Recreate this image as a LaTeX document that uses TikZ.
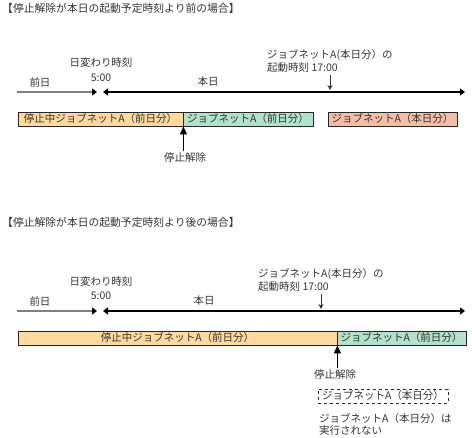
\documentclass[tikz,border=0pt]{standalone}
\usepackage{fontspec}
\setmainfont{Noto Sans CJK JP}
\usepackage{xcolor}
\usetikzlibrary{arrows.meta,positioning,shadows}
\definecolor{JobOrange}{HTML}{FFD9A0}
\definecolor{JobGreen} {HTML}{B4E2C8}
\definecolor{JobSalmon}{HTML}{F4BFA8}
\definecolor{JobText}  {HTML}{333333}
\definecolor{DayGray}  {HTML}{808080}

\begin{document}
\begin{tikzpicture}[x=1pt,y=-1pt,
    txt/.style={font=\fontsize{10.5}{12.5}\selectfont,text=JobText,inner sep=0pt},
    job/.style={draw=black!85,fill=#1,line width=0.8pt,
                minimum height=14pt,inner sep=0pt,
                font=\fontsize{10.5}{12}\selectfont,text=JobText,
                drop shadow={shadow xshift=1pt,shadow yshift=-1.2pt,fill=black!45,opacity=1}},
    prevday/.style={-{Triangle[length=5pt,width=7pt,color=black]},line width=1.4pt,DayGray},
    today/.style={{Triangle[length=5pt,width=7pt]}-{Triangle[length=5pt,width=7pt]},line width=2.2pt,black},
    startmark/.style={-{Stealth[length=5pt,width=5pt]},line width=0.8pt,black!80},
    release/.style={-{Triangle[length=8pt,width=7pt]},line width=1pt,black}
  ]
    \useasboundingbox (0,0) rectangle (472,438);

    % --- case 1: released before today's start time
    \node[txt,anchor=west,font=\fontsize{10.8}{12}\selectfont] (title1) at (2,8)
      {【停止解除が本日の起動予定時刻より前の場合】};
    \node[txt] (chg1) at (101,63) {日変わり時刻};
    \node[txt] (five1) at (101,78) {5:00};
    \node[txt] (prev1) at (40,82) {前日};
    \node[txt] (cur1) at (208,82) {本日};
    \node[txt,anchor=west,align=left] (start1) at (267,61)
      {ジョブネットA(本日分）の\\起動時刻 17:00};
    \coordinate (a1) at (17,92);
    \coordinate (b1) at (97,92);
    \coordinate (c1) at (103,92);
    \coordinate (d1) at (465,92);
    \draw[prevday] (a1) -- (b1);
    \draw[today] (c1) -- (d1);
    \coordinate (m1) at (330,75);
    \draw[startmark] (m1) -- (330,90);
    \node[job=JobOrange,minimum width=165pt] (oldA) at (100.5,119)
      {停止中ジョブネットA（前日分）};
    \node[job=JobGreen,minimum width=130pt] (newA) at (248,119)
      {ジョブネットA（前日分）};
    \node[job=JobSalmon,minimum width=129pt] (todayA) at (392.5,119)
      {ジョブネットA（本日分）};
    \node[txt] (rel1) at (185,158) {停止解除};
    \draw[release] (rel1.north -| oldA.south east) ++(0,-2) -- (oldA.south east);

    % --- case 2: released after today's start time
    \node[txt,anchor=west,font=\fontsize{10.8}{12}\selectfont] (title2) at (2,222)
      {【停止解除が本日の起動予定時刻より後の場合】};
    \node[txt] (chg2) at (101,282) {日変わり時刻};
    \node[txt] (five2) at (101,296) {5:00};
    \node[txt] (prev2) at (40,301) {前日};
    \node[txt] (cur2) at (204,301) {本日};
    \node[txt,anchor=west,align=left] (start2) at (258,280)
      {ジョブネットA(本日分）の\\起動時刻 17:00};
    \coordinate (a2) at (17,311);
    \coordinate (b2) at (97,311);
    \coordinate (c2) at (103,311);
    \coordinate (d2) at (465,311);
    \draw[prevday] (a2) -- (b2);
    \draw[today] (c2) -- (d2);
    \coordinate (m2) at (321,294);
    \draw[startmark] (m2) -- (321,309);
    \node[job=JobOrange,minimum width=319pt] (oldB) at (177.5,338)
      {停止中ジョブネットA（前日分）};
    \node[job=JobGreen,minimum width=129pt] (newB) at (401.5,338)
      {ジョブネットA（前日分）};
    \node[txt] (rel2) at (335,375) {停止解除};
    \draw[release] (rel2.north -| oldB.south east) ++(0,-2) -- (oldB.south east);
    \node[draw=black!85,dashed,line width=0.8pt,minimum width=130pt,minimum height=14pt,
          inner sep=0pt,font=\fontsize{10.5}{12}\selectfont,text=JobText] (skipB) at (383,396)
      {ジョブネットA（本日分）};
    \node[txt,anchor=north west,align=left] (note2) at (319,413)
      {ジョブネットA（本日分）は\\実行されない};
  \end{tikzpicture}
\end{document}
